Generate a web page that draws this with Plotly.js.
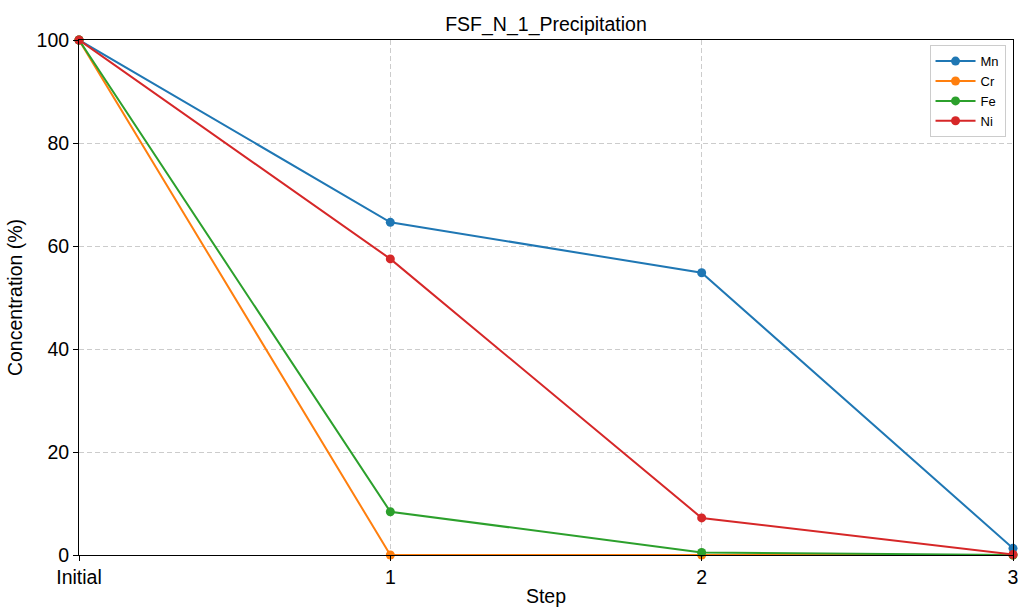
<!DOCTYPE html>
<html>
<head>
<meta charset="utf-8">
<script src="https://cdn.plot.ly/plotly-3.0.1.min.js"></script>
<style>html,body{margin:0;padding:0;background:#fff;}#chart{width:1018px;height:607px;}</style>
</head>
<body>
<div id="chart"></div>
<script>
const steps = [0, 1, 2, 3];
const stepLabels = ["Initial", "1", "2", "3"];
const mn = [100, 64.6, 54.8, 1.3];
const cr = [100, 0, 0, 0];
const fe = [100, 8.4, 0.5, 0];
const ni = [100, 57.5, 7.2, 0.1];

const names = ["Mn", "Cr", "Fe", "Ni"];
const colors = ["#1f77b4", "#ff7f0e", "#2ca02c", "#d62728"];
const series = [mn, cr, fe, ni];

const traces = series.map((s, i) => ({
  x: steps, y: s, name: names[i], type: "scatter", mode: "lines+markers",
  line: {color: colors[i], width: 2},
  marker: {color: colors[i], size: 9},
  cliponaxis: false
}));

const gridStyle = {showgrid: true, gridcolor: "#cccccc", griddash: "5px,3px", gridwidth: 1};

const layout = {
  width: 1018, height: 607,
  margin: {l: 79, r: 5, t: 40, b: 52},
  paper_bgcolor: "#fff", plot_bgcolor: "#fff",
  font: {family: "Liberation Sans, Arial, sans-serif", color: "#000"},
  title: {text: "FSF_N_1_Precipitation", font: {size: 19.5}, x: 0.5, xref: "paper", xanchor: "center", y: 0.96, yanchor: "middle", yref: "container"},
  xaxis: Object.assign({
    range: [0, 3], tickvals: steps, ticktext: stepLabels,
    ticks: "outside", ticklen: 5, tickcolor: "#000", tickfont: {size: 19.5},
    ticklabeloverflow: "allow", automargin: false,
    showline: true, linecolor: "#000", linewidth: 1, mirror: true, zeroline: false,
    title: {text: "Step", font: {size: 19.5}, standoff: 4}
  }, gridStyle),
  yaxis: Object.assign({
    range: [0, 100], tickvals: [0, 20, 40, 60, 80, 100],
    ticks: "outside", ticklen: 5, tickcolor: "#000", tickfont: {size: 19.5},
    showline: true, linecolor: "#000", linewidth: 1, mirror: true, zeroline: false,
    title: {text: "Concentration (%)", font: {size: 19.5}, standoff: 8}
  }, gridStyle),
  legend: {
    x: 0.992, xanchor: "right", y: 0.99, yanchor: "top",
    bgcolor: "rgba(255,255,255,0.9)", bordercolor: "#cccccc", borderwidth: 1,
    font: {size: 13}, tracegroupgap: 0, itemwidth: 40
  },
  showlegend: true
};

Plotly.newPlot("chart", traces, layout, {displayModeBar: false, staticPlot: true});
</script>
</body>
</html>
